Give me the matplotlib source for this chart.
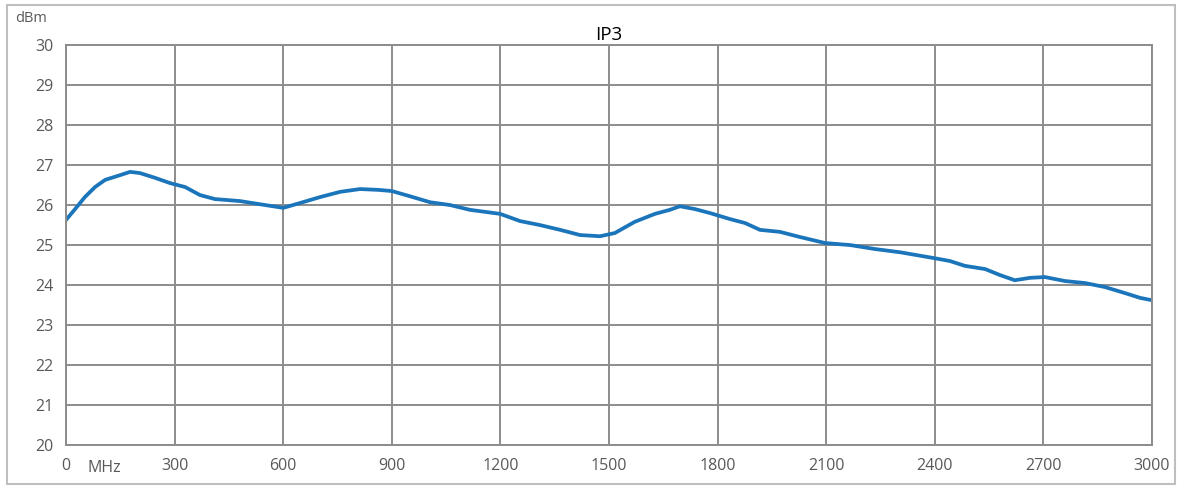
import numpy as np
import matplotlib.pyplot as plt
from matplotlib.patches import Rectangle

plt.rcParams['font.family'] = ['Open Sans', 'DejaVu Sans']

# frequency (MHz) and IP3 (dBm)
freq = [0, 25, 52, 80, 108, 150, 177, 204, 246, 287, 329, 370, 411, 480, 536,
        600, 646, 702, 757, 812, 862, 900, 950, 1006, 1061, 1116, 1199, 1254,
        1309, 1365, 1420, 1475, 1516, 1571, 1627, 1668, 1696, 1737, 1779, 1834,
        1876, 1917, 1972, 2028, 2097, 2166, 2235, 2304, 2400, 2442, 2483, 2539,
        2580, 2621, 2663, 2704, 2760, 2815, 2870, 2925, 2967, 3000]
ip3 = [25.63, 25.9, 26.2, 26.45, 26.63, 26.75, 26.83, 26.8, 26.68, 26.55,
       26.45, 26.25, 26.15, 26.1, 26.02, 25.93, 26.05, 26.2, 26.33, 26.4,
       26.38, 26.35, 26.22, 26.07, 26.0, 25.88, 25.78, 25.6, 25.5, 25.38,
       25.25, 25.22, 25.3, 25.58, 25.78, 25.88, 25.97, 25.9, 25.8, 25.65,
       25.55, 25.38, 25.33, 25.2, 25.05, 25.0, 24.9, 24.82, 24.67, 24.6,
       24.48, 24.4, 24.25, 24.12, 24.18, 24.2, 24.1, 24.05, 23.95, 23.8,
       23.68, 23.62]

xticks = np.arange(0, 3001, 300)
yticks = np.arange(20, 31, 1)

fig = plt.figure(figsize=(11.86, 4.9), dpi=100)
ax = fig.add_axes([0.0557, 0.0918, 0.9156, 0.8162])

ax.plot(freq, ip3, color='#1b75bb', lw=2.7, solid_capstyle='round')

ax.set_xlim(0, 3000)
ax.set_ylim(20, 30)
ax.set_xticks(xticks)
ax.set_yticks(yticks)
ax.grid(True, color='#8c8c8c', lw=1.4)
for s in ax.spines.values():
    s.set_color('#8c8c8c')
    s.set_linewidth(1.4)
ax.tick_params(axis='x', length=0, labelsize=11.5, colors='#595959', pad=9)
ax.tick_params(axis='y', length=0, labelsize=11.5, colors='#595959', pad=9)
ax.set_axisbelow(True)

ax.set_title('IP3', fontsize=13.5, pad=4)
fig.text(0.013, 0.962, 'dBm', fontsize=10.5, color='#595959', va='center')
fig.text(0.074, 0.045, 'MHz', fontsize=11.5, color='#595959', va='center')

fig.patches.append(Rectangle((0.006, 0.012), 0.985, 0.978, transform=fig.transFigure,
                             fill=False, edgecolor='#bfbfbf', lw=1.5))

fig.savefig('out.png')
